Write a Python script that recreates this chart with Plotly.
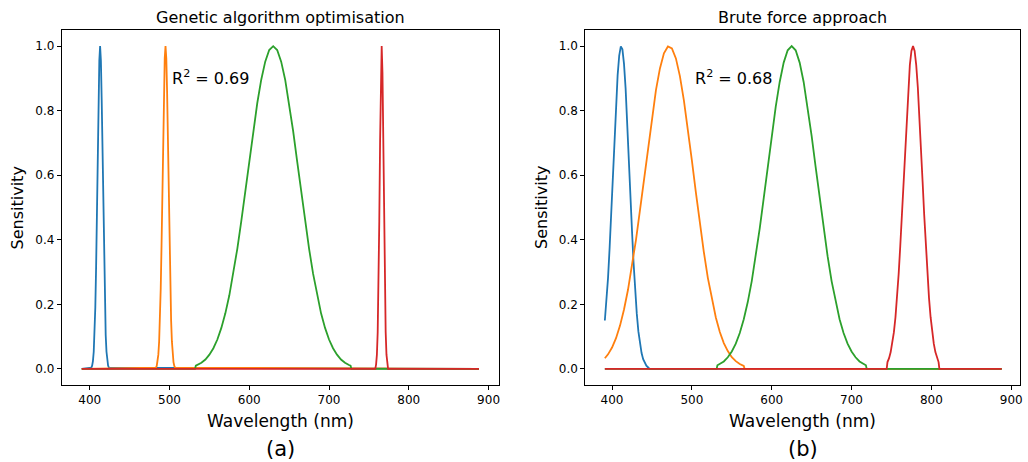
import plotly.graph_objects as go

# ---------------- data ----------------
# Panel (a): genetic algorithm optimisation
wl_a_blue = [390, 402, 403, 404, 405, 406, 407, 408, 409, 410, 411, 412, 413, 414, 415, 416, 417,
             418, 419, 420, 421, 422, 423, 424, 888]
s_a_blue = [0, 0.004, 0.010, 0.024, 0.053, 0.105, 0.191, 0.317, 0.480, 0.662, 0.832, 0.955, 1.0,
            0.955, 0.832, 0.662, 0.480, 0.317, 0.191, 0.105, 0.053, 0.024, 0.010, 0.004, 0]

wl_a_orange = [390, 483, 484, 485, 486, 487, 488, 489, 490, 491, 492, 493, 494, 495, 496, 497, 498,
               499, 500, 501, 502, 503, 504, 505, 506, 507, 888]
s_a_orange = [0, 0.004, 0.009, 0.021, 0.044, 0.085, 0.151, 0.249, 0.381, 0.540, 0.707, 0.857, 0.962,
              1.0, 0.962, 0.857, 0.707, 0.540, 0.381, 0.249, 0.151, 0.085, 0.044, 0.021, 0.009,
              0.004, 0]

wl_a_green = [390, 532, 533, 535, 540, 545, 550, 555, 560, 565, 570, 575, 580, 585, 590, 595, 600,
              605, 610, 615, 620, 625, 630, 635, 640, 645, 650, 655, 660, 665, 670, 675, 680, 685,
              690, 695, 700, 705, 710, 715, 720, 725, 727, 728, 888]
s_a_green = [0, 0, 0.010, 0.012, 0.019, 0.029, 0.044, 0.064, 0.091, 0.127, 0.172, 0.228, 0.295,
             0.372, 0.458, 0.550, 0.644, 0.737, 0.823, 0.896, 0.952, 0.988, 1.0, 0.988, 0.952,
             0.896, 0.823, 0.737, 0.644, 0.550, 0.458, 0.372, 0.295, 0.228, 0.172, 0.127, 0.091,
             0.064, 0.044, 0.029, 0.019, 0.012, 0.010, 0, 0]

wl_a_red = [390, 758, 759, 760, 761, 762, 763, 764, 765, 766, 767, 768, 769, 770, 771, 772, 773,
            774, 888]
s_a_red = [0, 0, 0.014, 0.044, 0.114, 0.249, 0.458, 0.707, 0.917, 1.0, 0.917, 0.707, 0.458, 0.249,
           0.114, 0.044, 0.014, 0, 0]

# Panel (b): brute force approach
wl_b_blue = [391, 393, 395, 397, 399, 401, 403, 405, 407, 409, 411, 413, 415, 417, 419, 421, 423,
             425, 427, 429, 431, 433, 435, 437, 439, 441, 443, 445, 447, 888]
s_b_blue = [0.15, 0.204, 0.282, 0.376, 0.484, 0.599, 0.715, 0.822, 0.910, 0.971, 0.999, 0.990,
            0.945, 0.869, 0.770, 0.657, 0.541, 0.428, 0.327, 0.241, 0.171, 0.116, 0.077, 0.049,
            0.030, 0.018, 0.010, 0.005, 0, 0]

wl_b_orange = [391, 395, 400, 405, 410, 415, 420, 425, 430, 435, 440, 445, 450, 455, 460, 465, 470,
               475, 480, 485, 490, 495, 500, 505, 510, 515, 520, 525, 530, 535, 540, 545, 550,
               555, 560, 565, 566, 888]
s_b_orange = [0.033, 0.045, 0.066, 0.095, 0.134, 0.184, 0.245, 0.318, 0.400, 0.492, 0.589, 0.688,
              0.781, 0.864, 0.931, 0.978, 0.999, 0.993, 0.962, 0.907, 0.832, 0.743, 0.646, 0.547,
              0.451, 0.362, 0.282, 0.215, 0.159, 0.114, 0.080, 0.055, 0.036, 0.024, 0.015, 0.009,
              0, 0]

wl_b_green = [391, 531, 532, 535, 540, 545, 550, 555, 560, 565, 570, 575, 580, 585, 590, 595, 600,
              605, 610, 615, 620, 625, 630, 635, 640, 645, 650, 655, 660, 665, 670, 675, 680, 685,
              690, 695, 700, 705, 710, 715, 718, 719, 888]
s_b_green = [0, 0, 0.011, 0.015, 0.023, 0.036, 0.054, 0.078, 0.111, 0.154, 0.207, 0.272, 0.349,
             0.435, 0.529, 0.626, 0.722, 0.812, 0.889, 0.949, 0.987, 1.0, 0.987, 0.949, 0.889,
             0.812, 0.722, 0.626, 0.529, 0.435, 0.349, 0.272, 0.207, 0.154, 0.111, 0.078, 0.054,
             0.036, 0.023, 0.015, 0.011, 0, 0]

wl_b_red = [391, 744, 745, 747, 749, 751, 753, 755, 757, 759, 761, 763, 765, 767, 769, 771, 773,
            775, 777, 779, 781, 783, 785, 787, 789, 791, 793, 795, 797, 799, 801, 803, 805, 807,
            809, 810, 888]
s_b_red = [0, 0, 0.021, 0.033, 0.052, 0.078, 0.113, 0.160, 0.220, 0.294, 0.380, 0.477, 0.580,
           0.685, 0.785, 0.873, 0.941, 0.985, 1.0, 0.985, 0.941, 0.873, 0.785, 0.685, 0.580,
           0.477, 0.380, 0.294, 0.220, 0.160, 0.113, 0.078, 0.052, 0.033, 0.021, 0, 0]

titles = ["Genetic algorithm optimisation", "Brute force approach"]
r2_texts = ["R<sup>2</sup> = 0.69", "R<sup>2</sup> = 0.68"]
panel_tags = ["(a)", "(b)"]
x_ticks = [400, 500, 600, 700, 800, 900]
y_ticks = [0.0, 0.2, 0.4, 0.6, 0.8, 1.0]

colors = ["#1f77b4", "#ff7f0e", "#2ca02c", "#d62728"]

# ---------------- figure ----------------
W, H = 1028, 462
FONT = "DejaVu Sans"
fig = go.Figure()

panels = [
    [(wl_a_blue, s_a_blue), (wl_a_orange, s_a_orange), (wl_a_green, s_a_green), (wl_a_red, s_a_red)],
    [(wl_b_blue, s_b_blue), (wl_b_orange, s_b_orange), (wl_b_green, s_b_green), (wl_b_red, s_b_red)],
]
for p, curves in enumerate(panels):
    xa = "x" if p == 0 else "x2"
    ya = "y" if p == 0 else "y2"
    for c, (wx, sy) in enumerate(curves):
        fig.add_trace(go.Scatter(x=wx, y=sy, mode="lines", xaxis=xa, yaxis=ya,
                                 line=dict(color=colors[c], width=1.8), showlegend=False,
                                 hoverinfo="skip"))

top_px, bot_px = 30, 385
ydom = [(H - bot_px) / H, (H - top_px) / H]
xdoms = [[62 / W, 500 / W], [587 / W, 1023 / W]]
xranges = [[365, 912.5], [366.5, 911]]

axis_common = dict(showline=True, linecolor="black", linewidth=1, mirror=True,
                   ticks="outside", ticklen=4, tickwidth=1, tickcolor="black",
                   showgrid=False, zeroline=False,
                   tickfont=dict(family=FONT, size=12, color="black"))

fig.update_layout(
    width=W, height=H, margin=dict(l=0, r=0, t=0, b=0),
    paper_bgcolor="white", plot_bgcolor="white",
    xaxis=dict(domain=xdoms[0], range=xranges[0], tickvals=x_ticks, anchor="y", **axis_common),
    yaxis=dict(domain=ydom, range=[-0.05, 1.05], tickvals=y_ticks, tickformat=".1f", anchor="x",
               **axis_common),
    xaxis2=dict(domain=xdoms[1], range=xranges[1], tickvals=x_ticks, anchor="y2", **axis_common),
    yaxis2=dict(domain=ydom, range=[-0.05, 1.05], tickvals=y_ticks, tickformat=".1f", anchor="x2",
                **axis_common),
)

ann = []
for p in range(2):
    cx = (xdoms[p][0] + xdoms[p][1]) / 2
    ann.append(dict(text=titles[p], x=cx, y=(H - 17) / H, xref="paper", yref="paper",
                    xanchor="center", yanchor="middle", showarrow=False,
                    font=dict(family=FONT, size=16, color="black")))
    ann.append(dict(text="Wavelength (nm)", x=cx, y=(H - 421) / H, xref="paper", yref="paper",
                    xanchor="center", yanchor="middle", showarrow=False,
                    font=dict(family=FONT, size=17, color="black")))
    ann.append(dict(text=panel_tags[p], x=cx, y=(H - 449) / H, xref="paper", yref="paper",
                    xanchor="center", yanchor="middle", showarrow=False,
                    font=dict(family=FONT, size=21, color="black")))
    ylx = [18, 543][p]
    ann.append(dict(text="Sensitivity", x=ylx / W, y=(ydom[0] + ydom[1]) / 2, xref="paper",
                    yref="paper", xanchor="center", yanchor="middle", showarrow=False,
                    textangle=-90, font=dict(family=FONT, size=16, color="black")))
    ann.append(dict(text=r2_texts[p], x=501, y=0.902, xref="x" if p == 0 else "x2",
                    yref="y" if p == 0 else "y2", xanchor="left", yanchor="middle",
                    showarrow=False, font=dict(family=FONT, size=16, color="black")))
fig.update_layout(annotations=ann)

fig.write_html("out.html")
